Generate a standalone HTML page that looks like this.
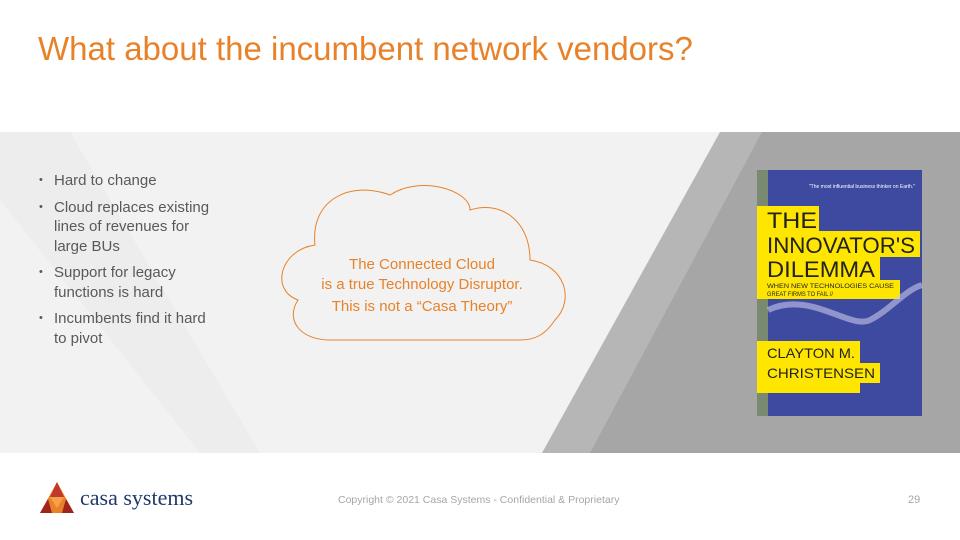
<!DOCTYPE html>
<html><head><meta charset="utf-8"><style>
body{margin:0;width:960px;height:540px;position:relative;background:#fff;font-family:"Liberation Sans",sans-serif;overflow:hidden}
.t{position:absolute;left:38px;top:30px;font-size:33px;color:#e8822a}
ul{position:absolute;left:36px;top:171px;margin:0;padding:0;list-style:none;font-size:15px;color:#595959;line-height:19.5px}
li{position:relative;padding-left:18px;margin-bottom:7px;white-space:nowrap}
li:before{content:"•";position:absolute;left:3px;font-size:11px}
.ct{position:absolute;left:282px;top:255px;width:280px;text-align:center;color:#e8822a;font-size:15px;line-height:20px}
</style></head><body>
<div class="t">What about the incumbent network vendors?</div>
<svg width="960" height="540" style="position:absolute;left:0;top:0">
<rect x="0" y="132" width="960" height="321" fill="#f2f2f2"/>
<polygon points="0,132 70,132 260,453 200,453 0,200" fill="#ededed"/>
<polygon points="720,132 960,132 960,453 542,453" fill="#b6b6b7"/>
<polygon points="762,132 960,132 960,453 590,453" fill="#a6a6a7"/>
<path d="M298,300 C270,290 280,250 315,245 C310,200 350,180 390,195 C420,175 470,190 470,210 C500,200 530,220 530,260 C565,265 575,300 555,320 C545,335 535,340 520,340 L330,340 C300,340 285,320 298,300 Z" fill="none" stroke="#e8822a" stroke-width="1"/>
<rect x="757" y="170" width="165" height="246" fill="#3e4aa0"/>
<rect x="757" y="170" width="11" height="246" fill="#7a8a70"/>
<rect x="757" y="206" width="62" height="25" fill="#ffe600"/>
<rect x="757" y="231" width="163" height="26" fill="#ffe600"/>
<rect x="757" y="257" width="123" height="23" fill="#ffe600"/>
<rect x="757" y="280" width="143" height="19" fill="#ffe600"/>
<rect x="757" y="341" width="103" height="22" fill="#ffe600"/>
<rect x="757" y="363" width="123" height="20" fill="#ffe600"/>
<rect x="757" y="383" width="103" height="10" fill="#ffe600"/>
<path d="M768,310 C810,290 850,330 870,320 C890,310 905,290 922,285" stroke="#c8c8ea" stroke-width="6" fill="none" opacity=".6"/>
<g font-family="Liberation Sans,sans-serif" fill="#222">
<text x="767" y="228" font-size="22" textLength="50" lengthAdjust="spacingAndGlyphs">THE</text>
<text x="767" y="253" font-size="22" textLength="148" lengthAdjust="spacingAndGlyphs">INNOVATOR'S</text>
<text x="767" y="277" font-size="22" textLength="108" lengthAdjust="spacingAndGlyphs">DILEMMA</text>
<text x="767" y="288" font-size="6.5" textLength="127" lengthAdjust="spacingAndGlyphs">WHEN NEW TECHNOLOGIES CAUSE</text>
<text x="767" y="296" font-size="6.5" textLength="66" lengthAdjust="spacingAndGlyphs">GREAT FIRMS TO FAIL //</text>
<text x="767" y="358" font-size="14" textLength="88" lengthAdjust="spacingAndGlyphs">CLAYTON M.</text>
<text x="767" y="378" font-size="14" textLength="108" lengthAdjust="spacingAndGlyphs">CHRISTENSEN</text>
</g>
<text x="915" y="188" font-size="5" fill="#fff" text-anchor="end">"The most influential business thinker on Earth."</text>
<polygon points="57,482 40,513 74,513" fill="#e8822a"/>
<polygon points="57,482 50,497 64,497" fill="#c0392b"/>
<polygon points="50,497 57,508 64,497" fill="#f6a04a"/>
<polygon points="40,513 48,499 52,513" fill="#a0231c"/>
<polygon points="74,513 66,499 62,513" fill="#a0231c"/>
</svg>
<ul><li>Hard to change</li><li>Cloud replaces existing<br>lines of revenues for<br>large BUs</li><li>Support for legacy<br>functions is hard</li><li>Incumbents find it hard<br>to pivot</li></ul>
<div class="ct">The Connected Cloud<br>is a true Technology Disruptor.<div style="margin-top:2px">This is not a “Casa Theory”</div></div>
<div style="position:absolute;left:80px;top:485px;font-family:'Liberation Serif',serif;font-size:22px;color:#1f3a6b">casa systems</div>
<div style="position:absolute;left:338px;top:494px;font-size:10.5px;color:#a6a6a6">Copyright © 2021 Casa Systems - Confidential &amp; Proprietary</div>
<div style="position:absolute;left:908px;top:494px;font-size:11px;color:#a6a6a6">29</div>
</body></html>
